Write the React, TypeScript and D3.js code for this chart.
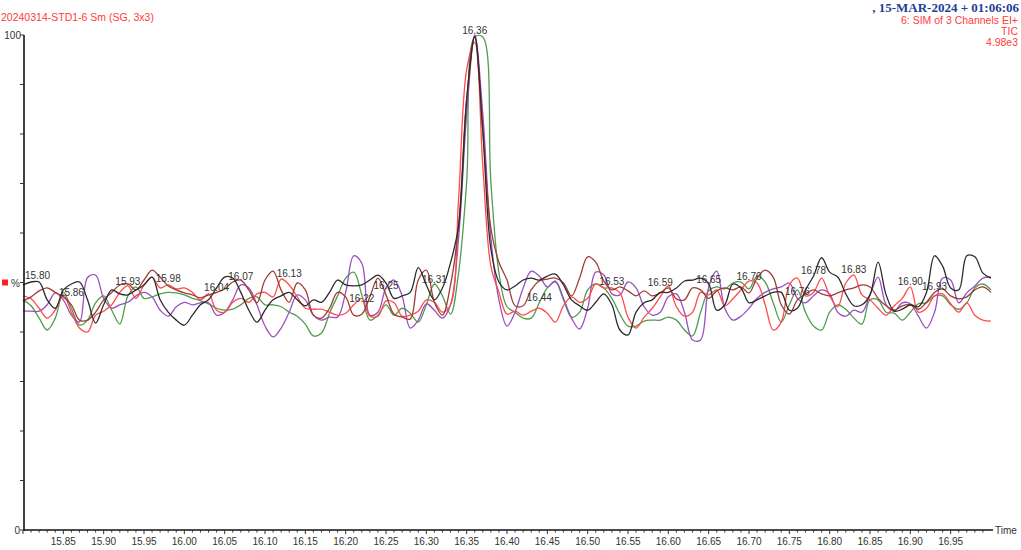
import React, { useEffect, useRef } from 'react';
import * as d3 from 'd3';

// sample grid: 15.80 .. 17.00 min, one point per 0.01 min
const startTime = 15.8;
const step = 0.01;

// intensities in % of the largest peak
const blackTrace = [
  49.5, 50.1, 50.1, 46.5, 44.8, 48.5, 49.7, 50.1, 46.5, 41.8,
  45.5, 48.5, 47.7, 47.5, 48.5, 49.5, 51.1, 46.5, 44, 42.4,
  41.4, 43.4, 45.5, 46.5, 48.9, 51.1, 50.9, 48, 44.4, 42,
  44.4, 46.5, 47.3, 48, 46.5, 45.3, 46.5, 46, 48, 50.5,
  49.5, 49.3, 49.5, 50.5, 51.5, 49.9, 46.8, 47.3, 48, 53,
  49.5, 46.5, 48.9, 54, 61.5, 87, 99.7, 80.5, 56.8, 50.1,
  48.5, 49.3, 50.5, 50.9, 50.5, 51.3, 51.7, 49.5, 46.5, 45.3,
  44.4, 46, 47.7, 45.5, 40.4, 39.4, 44, 45.9, 46.5, 48,
  48, 48.9, 50.3, 50.5, 50.9, 49.7, 44.4, 45.5, 49.7, 48.9,
  45.9, 46.5, 47.3, 48, 48, 44.4, 44.8, 48.5, 51.3, 55,
  52.1, 51.1, 47.7, 45.3, 45.5, 47.5, 54.1, 47.5, 44.2, 44.6,
  45.5, 45.1, 48, 55.4, 53.3, 48.9, 48.5, 55.4, 55.2, 51.9,
  50.9,
];

const brownTrace = [
  46.3, 47.1, 48.3, 48.9, 48, 47.1, 45.5, 42.4, 42.4, 44,
  46.5, 48, 49.5, 49.7, 48.5, 50.5, 52.5, 51.1, 49.3, 48.5,
  47.9, 47.5, 46.9, 47.5, 48, 48.7, 50.1, 50.5, 48.5, 45.9,
  50.5, 52.3, 48.5, 46, 49.9, 48.5, 43.4, 42.8, 44.8, 48,
  47.1, 43.4, 43.6, 47.1, 50.9, 47.5, 43.6, 43, 42.6, 50.5,
  52.5, 46, 43.4, 49.5, 61.5, 87, 99.6, 81, 61, 54.1,
  50.5, 45.3, 45.3, 48.5, 50.3, 50.7, 50.9, 49.9, 47.3, 50.9,
  55.2, 54.1, 50.3, 48.5, 49.1, 48.3, 47.3, 48.3, 47.3, 47.9,
  48.9, 46.7, 46.5, 48.9, 48.5, 46.8, 48.3, 48.9, 48.5, 49.1,
  47.9, 50.9, 52.5, 51.1, 45.5, 43.6, 46.5, 47.7, 48.5, 47.7,
  47.3, 47.9, 48.5, 48.9, 49.5, 49.1, 46.8, 45.3, 44.4, 45.3,
  45.5, 44.6, 46, 48, 48.7, 47.3, 46.7, 47.1, 48.5, 49.1,
  48,
];

const redTrace = [
  47.3, 46.7, 44.8, 42.8, 44.4, 47.5, 44, 40.8, 40, 43.4,
  44.2, 45.5, 48, 49.3, 46.8, 49.5, 51.1, 48.9, 49.5, 48.7,
  48.9, 48, 46.5, 47.7, 44.4, 44, 46, 46.8, 46, 47.7,
  48, 47.1, 50.7, 49.5, 47.1, 44.8, 44.6, 44.6, 44, 43.4,
  43.8, 45.5, 46.8, 43.2, 43.2, 46.3, 45.9, 43.2, 43.4, 44.2,
  46.5, 46, 44, 45.5, 67, 93, 98.5, 73.6, 53.3, 48,
  43.6, 44.2, 43.4, 44.2, 44.8, 43.8, 42, 45.3, 47.1, 46,
  46.8, 49.7, 48.9, 48.9, 47.9, 43, 40.8, 43, 44.8, 47.1,
  49.3, 45.1, 43.2, 44, 48, 47.5, 48.5, 45.3, 46.7, 48.5,
  50.3, 49.9, 45.5, 40.4, 42, 49.5, 50.9, 47.3, 48, 50.9,
  47.3, 45.1, 49.9, 51.5, 47.5, 46.5, 44.8, 43.4, 45.3, 46.8,
  49.1, 44, 44.8, 47.3, 47.7, 45.7, 44, 45.9, 43.4, 42.4,
  42.2,
];

const greenTrace = [
  46.5, 45.3, 42.8, 40.4, 42.8, 48, 44.8, 41.4, 42.4, 45.9,
  47.3, 44.4, 41.6, 47.3, 49.1, 46.8, 47.1, 47.7, 48, 47.9,
  47.5, 46.8, 46.3, 45.7, 44.8, 44.4, 44.6, 45.5, 46.8, 47.1,
  45.5, 45.5, 45.1, 44, 43.2, 41.6, 39.2, 39.8, 43.8, 47.3,
  50.9, 52.1, 47.5, 42.4, 43.4, 45.5, 43.4, 44.8, 43.8, 42,
  45.5, 49.7, 47.3, 43.6, 52, 70.3, 99.6, 99.6, 70.3, 52,
  45.1, 44, 42.8, 42.8, 45.9, 48.9, 50.1, 46.5, 43, 44,
  48.5, 49.7, 48.9, 46.8, 43.6, 41.2, 41.2, 42.2, 42.4, 42.4,
  43, 42.4, 40.4, 39.2, 44, 48.3, 49.1, 48.7, 49.9, 50.1,
  48.7, 51.3, 50.1, 45.9, 42, 45.5, 48.5, 44, 41.2, 40.4,
  44, 45.5, 44.6, 42.8, 41.6, 46.5, 46.5, 44, 43.8, 42.4,
  44, 45.7, 45.9, 47.3, 47.3, 45.5, 44.6, 45.9, 48.9, 49.7,
  48.5,
];

const purpleTrace = [
  44.2, 44.2, 44.2, 45.5, 47.9, 46.5, 43.4, 42, 51, 51.5,
  46.8, 44.8, 45.5, 46, 47.3, 48, 47.1, 44.4, 43.2, 45.1,
  46, 45.5, 45.9, 45.9, 43.4, 44, 46.5, 49.5, 48.9, 45.5,
  41.2, 39, 40.8, 44, 47.5, 46.5, 43.4, 42.4, 43, 43,
  48, 55.4, 53.9, 43.4, 44, 48.9, 50.5, 47.3, 40.8, 42.4,
  45.7, 44.4, 42.8, 45.5, 59, 84, 100, 84, 59, 46.5,
  41.2, 44, 48.9, 52.3, 51.3, 49.1, 50.3, 46.8, 42.8, 40.6,
  44.8, 52.1, 51.5, 47.7, 47.5, 50.1, 48.9, 45.1, 43.4, 44,
  47.1, 47.7, 44, 38.4, 38.4, 49.1, 52.3, 44.8, 42.4, 43.2,
  44.8, 46.8, 48, 48.7, 49.1, 49.9, 46.8, 45.9, 47.3, 48.5,
  47.7, 44, 43.2, 44.4, 44, 47.5, 51.1, 45.5, 44.2, 45.9,
  45.7, 43.2, 40.8, 44, 50.9, 50.5, 45.9, 47.9, 49.3, 50.9,
  51.1,
];

// retention time labels: time, and the height they sit on
const peakTimes = [15.8, 15.86, 15.93, 15.98, 16.04, 16.07, 16.13, 16.22, 16.25, 16.31, 16.36,
  16.44, 16.53, 16.59, 16.65, 16.7, 16.76, 16.78, 16.83, 16.9, 16.93];
const peakHeights = [50.3, 46.9, 49.1, 49.7, 47.9, 50.1, 50.7, 45.7, 48.3, 49.5, 99.8,
  45.9, 49.1, 48.9, 49.5, 50.1, 47.1, 51.3, 51.5, 49.1, 48.1];

const timeTicks = [15.85, 15.9, 15.95, 16.0, 16.05, 16.1, 16.15, 16.2, 16.25, 16.3, 16.35, 16.4,
  16.45, 16.5, 16.55, 16.6, 16.65, 16.7, 16.75, 16.8, 16.85, 16.9, 16.95];

const traces = [
  { values: greenTrace, color: '#4f9d4f' },
  { values: purpleTrace, color: '#9a4fbf' },
  { values: redTrace, color: '#ff4b4b' },
  { values: brownTrace, color: '#9e3c35' },
  { values: blackTrace, color: '#2b2b2b' },
];

const W = 1021;
const H = 550;
const FONT = '"Liberation Sans", Arial, sans-serif';

const Chromatogram = () => {
  const svgRef = useRef(null);

  useEffect(() => {
    const svg = d3.select(svgRef.current);
    svg.selectAll('*').remove();

    const x = d3.scaleLinear().domain([15.8, 17.0]).range([23, 991]);
    const y = d3.scaleLinear().domain([0, 100]).range([530, 35]);

    // --- HEADER TEXT ---
    svg.append('text')
      .attr('x', 1).attr('y', 21)
      .attr('font-family', FONT).attr('font-size', 10.5)
      .attr('fill', '#ff3b3b')
      .text('20240314-STD1-6 Sm (SG, 3x3)');

    svg.append('text')
      .attr('x', 1019).attr('y', 12)
      .attr('text-anchor', 'end')
      .attr('font-family', '"Liberation Serif", "Times New Roman", serif')
      .attr('font-weight', 'bold').attr('font-size', 13)
      .attr('fill', '#1f3f94')
      .text(',  15-MAR-2024 + 01:06:06');

    ['6: SIM of 3 Channels EI+', 'TIC', '4.98e3'].forEach((t, i) => {
      svg.append('text')
        .attr('x', 1018).attr('y', 24 + i * 11)
        .attr('text-anchor', 'end')
        .attr('font-family', FONT).attr('font-size', 10.5)
        .attr('fill', '#ff3b3b')
        .text(t);
    });

    // --- TRACES ---
    const line = d3.line()
      .curve(d3.curveCatmullRom.alpha(0.5))
      .x((d, i) => x(startTime + i * step))
      .y(d => y(d));

    traces.forEach(tr => {
      svg.append('path')
        .datum(tr.values)
        .attr('fill', 'none')
        .attr('stroke', tr.color)
        .attr('stroke-width', 1.3)
        .attr('stroke-linejoin', 'round')
        .attr('d', line);
    });

    // --- PEAK LABELS ---
    peakTimes.forEach((t, i) => {
      const px = x(t);
      const nearAxis = px - 12 < 25;
      svg.append('text')
        .attr('x', nearAxis ? 25 : px)
        .attr('y', y(peakHeights[i]) - 2)
        .attr('text-anchor', nearAxis ? 'start' : 'middle')
        .attr('font-family', FONT).attr('font-size', 10)
        .attr('fill', '#333')
        .text(t.toFixed(2));
    });

    // --- AXES ---
    const axisG = svg.append('g');
    axisG.append('line')
      .attr('x1', 24).attr('x2', 24)
      .attr('y1', y(100)).attr('y2', y(0) + 1)
      .attr('stroke', '#111').attr('stroke-width', 1.6);
    axisG.append('line')
      .attr('x1', 24).attr('x2', 993)
      .attr('y1', y(0)).attr('y2', y(0))
      .attr('stroke', '#111').attr('stroke-width', 1.6);

    d3.range(0, 101, 10).forEach(v => {
      axisG.append('line')
        .attr('x1', 20).attr('x2', 24)
        .attr('y1', y(v)).attr('y2', y(v))
        .attr('stroke', '#333').attr('stroke-width', 1);
    });

    svg.append('text')
      .attr('x', 21).attr('y', y(100) + 4)
      .attr('text-anchor', 'end')
      .attr('font-family', FONT).attr('font-size', 10)
      .attr('fill', '#333').text('100');
    svg.append('text')
      .attr('x', 20).attr('y', y(0) + 4)
      .attr('text-anchor', 'end')
      .attr('font-family', FONT).attr('font-size', 10)
      .attr('fill', '#333').text('0');
    svg.append('rect')
      .attr('x', 2).attr('y', y(50) - 3)
      .attr('width', 6).attr('height', 6)
      .attr('fill', '#ff2020');
    svg.append('text')
      .attr('x', 20).attr('y', y(50) + 4)
      .attr('text-anchor', 'end')
      .attr('font-family', FONT).attr('font-size', 10)
      .attr('fill', '#333').text('%');

    // minor ticks every 0.01, major every 0.05
    d3.range(0, 120).forEach(i => {
      const t = startTime + i * step;
      const major = i % 5 === 0;
      axisG.append('line')
        .attr('x1', x(t)).attr('x2', x(t))
        .attr('y1', y(0)).attr('y2', y(0) + (major ? 4 : 2.5))
        .attr('stroke', '#333').attr('stroke-width', 1);
    });

    timeTicks.forEach(t => {
      svg.append('text')
        .attr('x', x(t)).attr('y', 545)
        .attr('text-anchor', 'middle')
        .attr('font-family', FONT).attr('font-size', 10)
        .attr('fill', '#333')
        .text(t.toFixed(2));
    });

    svg.append('text')
      .attr('x', 995).attr('y', 534)
      .attr('font-family', FONT).attr('font-size', 10)
      .attr('fill', '#333').text('Time');
  }, []);

  return (
    <svg
      ref={svgRef}
      width={W}
      height={H}
      style={{ position: 'absolute', left: 0, top: 0, background: '#fff' }}
    />
  );
};

export default function App() {
  return <Chromatogram />;
}
